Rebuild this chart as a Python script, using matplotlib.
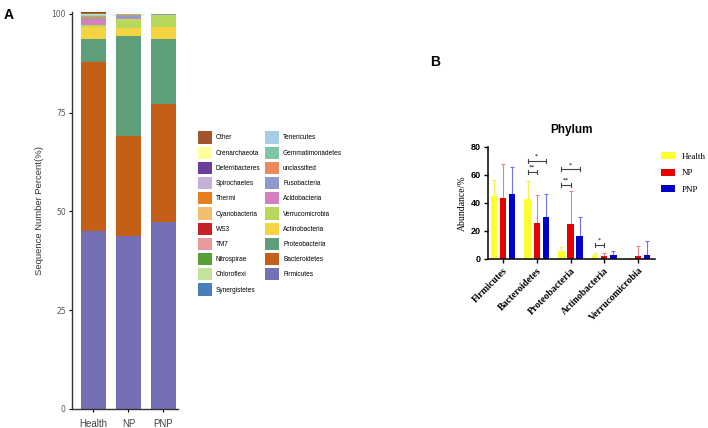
import matplotlib
matplotlib.use('Agg')
import matplotlib.pyplot as plt
from matplotlib.patches import Patch
import numpy as np

# ---- panel A data: stacked phylum composition (%)
groups = ['Health', 'NP', 'PNP']
phyla = ['Firmicutes', 'Bacteroidetes', 'Proteobacteria', 'Actinobacteria',
         'Verrucomicrobia', 'Acidobacteria', 'Fusobacteria', 'unclassified',
         'Gemmatimonadetes', 'Tenericutes', 'Synergistetes', 'Chloroflexi',
         'Nitrospirae', 'TM7', 'WS3', 'Cyanobacteria', 'Thermi',
         'Spirochaetes', 'Deferribacteres', 'Crenarchaeota', 'Other']
comp = {
    'Health': [45.0, 42.9, 5.8, 3.0, 0.5, 1.3, 0.3, 0.3, 0.3, 0.3, 0.1, 0.2,
               0.1, 0.2, 0.1, 0.2, 0.1, 0.1, 0.1, 0.1, 0.1],
    'NP':     [43.7, 25.5, 25.2, 2.1, 2.2, 0.2, 0.5, 0.4, 0.1, 0.1, 0.0, 0.0,
               0.0, 0.0, 0.0, 0.0, 0.0, 0.0, 0.0, 0.0, 0.0],
    'PNP':    [47.2, 30.1, 16.4, 3.0, 3.0, 0.0, 0.3, 0.0, 0.0, 0.0, 0.0, 0.0,
               0.0, 0.0, 0.0, 0.0, 0.0, 0.0, 0.0, 0.0, 0.0],
}
colors = {
    'Firmicutes': '#7570B3', 'Bacteroidetes': '#C55E16', 'Proteobacteria': '#5E9E78',
    'Actinobacteria': '#F5D444', 'Verrucomicrobia': '#B6D85B', 'Acidobacteria': '#D47FC0',
    'Fusobacteria': '#8E9ACA', 'unclassified': '#E88A5F', 'Gemmatimonadetes': '#7FC4A5',
    'Tenericutes': '#A8CCE3', 'Synergistetes': '#4A7EBB', 'Chloroflexi': '#C3E29A',
    'Nitrospirae': '#5A9E38', 'TM7': '#E8999B', 'WS3': '#C82027', 'Cyanobacteria': '#F1BD73',
    'Thermi': '#E77E1E', 'Spirochaetes': '#C6B1D6', 'Deferribacteres': '#6A3E9A',
    'Crenarchaeota': '#FFFE9C', 'Other': '#A0562A',
}
legend_col1 = ['Other', 'Crenarchaeota', 'Deferribacteres', 'Spirochaetes', 'Thermi',
               'Cyanobacteria', 'WS3', 'TM7', 'Nitrospirae', 'Chloroflexi', 'Synergistetes']
legend_col2 = ['Tenericutes', 'Gemmatimonadetes', 'unclassified', 'Fusobacteria',
               'Acidobacteria', 'Verrucomicrobia', 'Actinobacteria', 'Proteobacteria',
               'Bacteroidetes', 'Firmicutes']

# ---- panel B data: mean abundance and SD
top_phyla = ['Firmicutes', 'Bacteroidetes', 'Proteobacteria', 'Actinobacteria', 'Verrucomicrobia']
mean_health = [45.0, 43.0, 6.0, 2.5, 0.3]
mean_np = [43.5, 25.5, 25.0, 2.0, 2.0]
mean_pnp = [46.5, 30.0, 16.5, 3.0, 2.5]
err_health = [11.5, 13.0, 2.5, 1.5, 0.7]
err_np = [24.0, 20.0, 23.5, 2.5, 7.5]
err_pnp = [19.5, 16.5, 13.5, 2.5, 10.0]
# (category, group_i, group_j, height, label)
sig = [(1, 0, 2, 70, '*'), (1, 0, 1, 62, '**'),
       (2, 0, 2, 64, '*'), (2, 0, 1, 53, '**'),
       (3, 0, 1, 10, '*')]

fig = plt.figure(figsize=(7.08, 4.28), dpi=100)

# ================= panel A
axA = fig.add_axes([0.1017, 0.0444, 0.150, 0.927])
x = np.arange(len(groups))
bottom = np.zeros(len(groups))
for i, p in enumerate(phyla):
    vals = np.array([comp[g][i] for g in groups])
    axA.bar(x, vals, 0.72, bottom=bottom, color=colors[p], edgecolor='none')
    bottom += vals
axA.set_xlim(-0.61, 2.42)
axA.set_ylim(0, 100.4)
axA.set_yticks([0, 25, 50, 75, 100])
axA.set_xticks(x)
axA.set_xticklabels(groups, fontsize=7, color='#444444', family='Liberation Sans')
axA.tick_params(axis='y', labelsize=5.5, labelcolor='#555555', length=2.5, width=0.8, pad=2)
axA.tick_params(axis='x', length=2.5, width=0.8, pad=5)
for s in ['top', 'right']:
    axA.spines[s].set_visible(False)
for s in ['left', 'bottom']:
    axA.spines[s].set_linewidth(1.0)
    axA.spines[s].set_color('#333333')
axA.set_ylabel('Sequence Number Percent(%)', fontsize=6.8, color='#333333',
               family='Liberation Sans', labelpad=5)
fig.text(0.005, 0.955, 'A', fontsize=10, fontweight='bold', family='Liberation Sans')

handles = [Patch(facecolor=colors[p], edgecolor='none') for p in legend_col1]
handles += [Patch(facecolor=colors[p], edgecolor='none') for p in legend_col2]
labels = legend_col1 + legend_col2
fig.legend(handles, labels, loc='upper left', bbox_to_anchor=(0.2797, 0.693), ncol=2,
           frameon=False, handlelength=2.1, handleheight=2.5,
           handletextpad=0.6, columnspacing=0.8, labelspacing=0.46, borderpad=0,
           borderaxespad=0, prop={'family': 'Liberation Sans', 'size': 4.7})

# ================= panel B
axB = fig.add_axes([0.689, 0.395, 0.236, 0.2617])
xb = np.arange(len(top_phyla))
w = 0.19
off = [-0.27, 0.0, 0.27]
series = [(mean_health, err_health, '#FFFF2E', '#F0F050', 'Health'),
          (mean_np, err_np, '#E60000', '#F08080', 'NP'),
          (mean_pnp, err_pnp, '#0000C8', '#7070F0', 'PNP')]
for k, (m, e, c, ec, lab) in enumerate(series):
    axB.bar(xb + off[k], m, w, color=c, label=lab, edgecolor='none', zorder=2)
    axB.errorbar(xb + off[k], m, yerr=[np.zeros(len(e)), e], fmt='none',
                 ecolor=ec, elinewidth=0.8, capsize=1.5, capthick=0.8, zorder=1)
for cat, i, j, h, lab in sig:
    x1, x2 = cat + off[i], cat + off[j]
    axB.plot([x1, x2], [h, h], color='#444444', lw=0.8)
    axB.plot([x1, x1], [h - 1.5, h + 1.5], color='#444444', lw=0.8)
    axB.plot([x2, x2], [h - 1.5, h + 1.5], color='#444444', lw=0.8)
    axB.text((x1 + x2) / 2, h + 1.5, lab, ha='center', va='bottom', fontsize=4.5)
axB.set_xlim(-0.45, 4.5)
axB.set_ylim(0, 80)
axB.set_yticks([0, 20, 40, 60, 80])
axB.set_yticklabels(['0', '20', '40', '60', '80'], fontsize=6.5, fontweight='bold',
                    family='Liberation Sans')
axB.set_xticks(xb)
axB.set_xticklabels(top_phyla, rotation=45, ha='right', rotation_mode='anchor',
                    fontsize=7, fontweight='bold', family='Liberation Serif')
axB.tick_params(axis='both', length=3, width=1.0, pad=2)
for s in ['top', 'right']:
    axB.spines[s].set_visible(False)
for s in ['left', 'bottom']:
    axB.spines[s].set_linewidth(1.1)
axB.set_ylabel('Abundance/%', fontsize=7, family='Liberation Serif', labelpad=3)
axB.set_title('Phylum', fontsize=8.5, fontweight='bold', family='Liberation Sans', pad=10)
fig.legend(loc='upper left', bbox_to_anchor=(0.934, 0.645), frameon=False,
           prop={'family': 'Liberation Serif', 'size': 6.5}, borderpad=0,
           borderaxespad=0, handlelength=1.5, handleheight=0.8, handletextpad=0.8,
           labelspacing=0.9)
fig.text(0.607, 0.845, 'B', fontsize=10, fontweight='bold', family='Liberation Sans')

fig.savefig('out.png', dpi=100)
